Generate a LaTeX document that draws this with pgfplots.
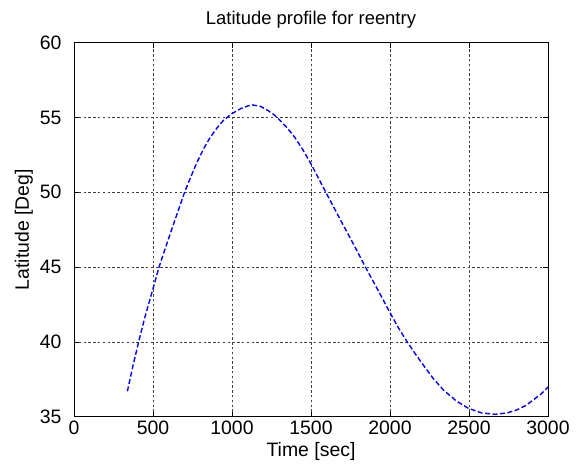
\documentclass[border=0pt]{standalone}
\usepackage{fontspec}
\setmainfont{Liberation Sans}
\usepackage{pgfplots}
\pgfplotsset{compat=1.18}

% Latitude history of the reentry trajectory (time in s, latitude in deg)
\pgfplotstableread{
t     lat
338   36.70
372   38.35
409   40.00
450   41.70
500   43.55
538   45.00
576   46.20
639   48.15
700   50.00
740   51.05
776   51.95
820   52.90
861   53.65
905   54.30
945   54.80
998   55.25
1060  55.62
1114  55.82
1128  55.84
1180  55.75
1230  55.45
1270  55.15
1304  54.80
1350  54.30
1399  53.65
1451  52.80
1504  51.82
1589  50.10
1684  48.20
1768  46.55
1842  45.05
1937  43.20
2000  41.95
2050  41.00
2106  40.05
2160  39.20
2211  38.45
2270  37.60
2338  36.78
2420  36.05
2496  35.56
2580  35.25
2665  35.16
2740  35.25
2802  35.45
2860  35.75
2907  36.12
2960  36.55
3002  37.00
3040  37.45
}\latdata

\begin{document}
\begin{tikzpicture}
\begin{axis}[
  scale only axis,
  width=474bp, height=374bp,
  xmin=0, xmax=3000, ymin=35, ymax=60,
  xtick={0,500,...,3000}, ytick={35,40,...,60},
  scaled x ticks=false,
  /pgf/number format/assume math mode=true,
  /pgf/number format/1000 sep={},
  tick label style={font=\fontsize{19.5}{22}\selectfont},
  label style={font=\fontsize{19.5}{22}\selectfont},
  title style={font=\fontsize{18.5}{21}\selectfont, yshift=5bp},
  title={Latitude profile for reentry},
  xlabel={Time [sec]},
  ylabel={Latitude [Deg]},
  xlabel style={yshift=-1bp},
  ylabel style={yshift=0bp},
  xticklabel style={yshift=-1bp},
  yticklabel style={xshift=-9bp},
  tick align=inside,
  major tick length=5bp,
  tick style={black, line width=0.6pt},
  axis line style={black, line width=0.7pt},
  grid=major,
  major grid style={black!75, dash pattern=on 2.4bp off 2.4bp, line width=0.6pt},
  clip=true,
]
\addplot[blue, line width=1.4pt, dash pattern=on 5bp off 2.5bp] table[x=t, y=lat] {\latdata};
\coordinate (ll) at (rel axis cs:0,0);
\end{axis}
\useasboundingbox ([shift={(-74bp,-46.3bp)}]ll) rectangle ([shift={(509bp,416.7bp)}]ll);
\end{tikzpicture}
\end{document}
